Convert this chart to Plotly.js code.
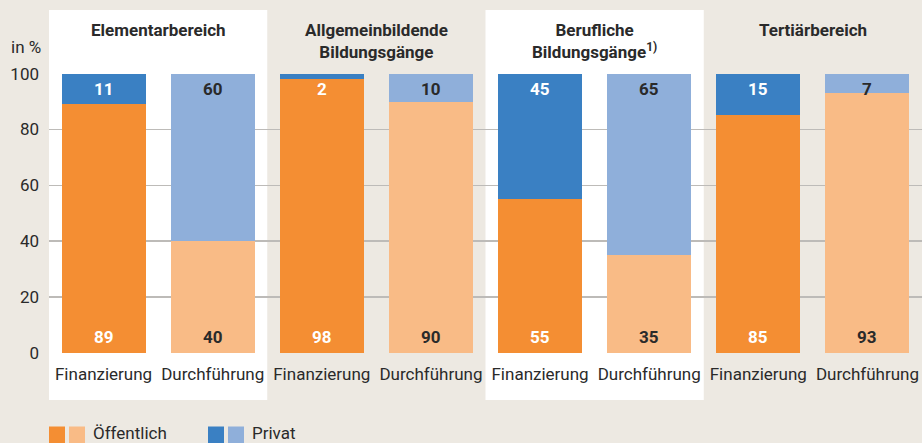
<!DOCTYPE html>
<html><head><meta charset="utf-8">
<script src="https://cdn.plot.ly/plotly-3.0.1.min.js"></script>
<style>html,body{margin:0;padding:0;background:#ede9e2;}#chart{width:922px;height:443px;}</style>
</head><body><div id="chart"></div>
<script>
const sectors = ["Elementarbereich", "Allgemeinbildende<br>Bildungsgänge", "Berufliche<br>Bildungsgänge<sup>1)</sup>", "Tertiärbereich"];
const barLabels = ["Finanzierung", "Durchführung", "Finanzierung", "Durchführung", "Finanzierung", "Durchführung", "Finanzierung", "Durchführung"];
const oeffentlich = [89, 40, 98, 90, 55, 35, 85, 93];
const privat = [11, 60, 2, 10, 45, 65, 15, 7];
const seriesNames = ["Öffentlich", "Privat"];
const yTicks = [0, 20, 40, 60, 80, 100];

const ORANGE_DARK = "#f48e33", ORANGE_LIGHT = "#f9bb86";
const BLUE_DARK = "#3a80c3", BLUE_LIGHT = "#8fafda";
const BG = "#ede9e2", TXT = "#2a2a2a";
const FONT = "Roboto, 'Open Sans', sans-serif";

const xs = barLabels.map((_, i) => i);
const isFin = barLabels.map(l => l === "Finanzierung");

const traces = [
  {type: "bar", x: xs, y: oeffentlich, name: seriesNames[0], width: 0.77,
   marker: {color: isFin.map(f => f ? ORANGE_DARK : ORANGE_LIGHT)}, hoverinfo: "y"},
  {type: "bar", x: xs, y: privat, name: seriesNames[1], width: 0.77,
   marker: {color: isFin.map(f => f ? BLUE_DARK : BLUE_LIGHT)}, hoverinfo: "y"}
];

const shapes = [];
const annotations = [];
// white panels behind sectors 1 and 3
[0, 2].forEach(s => {
  shapes.push({type: "rect", layer: "below", xref: "x", yref: "paper",
    x0: s * 2 - 0.5, x1: s * 2 + 1.5, y0: -0.168, y1: 1.225,
    fillcolor: "#ffffff", line: {width: 0}});
});
// sector titles
sectors.forEach((t, s) => {
  annotations.push({xref: "x", yref: "paper", x: s * 2 + 0.5, y: 1.196, yanchor: "top",
    text: "<b>" + t + "</b>", showarrow: false, align: "center",
    font: {family: FONT, size: 17, color: TXT}});
});
// value labels
xs.forEach(i => {
  annotations.push({xref: "x", yref: "y", x: i, y: 0, yanchor: "bottom", yshift: 4,
    text: "<b>" + oeffentlich[i] + "</b>", showarrow: false,
    font: {family: FONT, size: 17, color: isFin[i] ? "#ffffff" : TXT}});
  annotations.push({xref: "x", yref: "y", x: i, y: 100, yanchor: "top", yshift: -3,
    text: "<b>" + privat[i] + "</b>", showarrow: false,
    font: {family: FONT, size: 17, color: isFin[i] ? "#ffffff" : TXT}});
});
// unit label
annotations.push({xref: "paper", yref: "paper", x: -0.007, y: 1.093, xanchor: "right", yanchor: "middle",
  text: "in %", showarrow: false, font: {family: FONT, size: 17, color: TXT}});

// legend drawn manually
const px = p => (p - 49) / 873;
const py = p => (353 - p) / 280;
const legendItems = [
  {x: 49, colors: [ORANGE_DARK, ORANGE_LIGHT], name: seriesNames[0]},
  {x: 208, colors: [BLUE_DARK, BLUE_LIGHT], name: seriesNames[1]}
];
legendItems.forEach(it => {
  it.colors.forEach((c, k) => {
    const x0 = it.x + k * 20;
    shapes.push({type: "rect", xref: "paper", yref: "paper",
      x0: px(x0), x1: px(x0 + 16), y0: py(443), y1: py(426.5),
      fillcolor: c, line: {width: 0}});
  });
  annotations.push({xref: "paper", yref: "paper", x: px(it.x + 42), y: py(432.5), xanchor: "left", yanchor: "middle",
    text: it.name, showarrow: false, font: {family: FONT, size: 17, color: TXT}});
});

const layout = {
  width: 922, height: 443,
  margin: {l: 49, r: 0, t: 73, b: 90, pad: 0},
  paper_bgcolor: BG, plot_bgcolor: "rgba(0,0,0,0)",
  barmode: "stack", showlegend: false,
  font: {family: FONT, size: 17, color: TXT},
  xaxis: {range: [-0.5, 7.5], tickvals: xs, ticktext: barLabels, showgrid: false,
    zeroline: false, showline: false, ticks: "", ticklen: 0, ticklabelstandoff: 9, fixedrange: true,
    tickfont: {family: FONT, size: 17, color: TXT}},
  yaxis: {range: [0, 100.2], tickvals: yTicks, showgrid: true, gridcolor: "#bdbbb8", gridwidth: 1.5,
    zeroline: false, showline: false, ticks: "", ticklabelstandoff: 9, fixedrange: true,
    tickfont: {family: FONT, size: 17, color: TXT}},
  shapes: shapes, annotations: annotations
};

Plotly.newPlot("chart", traces, layout, {displayModeBar: false, staticPlot: true});
</script></body></html>
